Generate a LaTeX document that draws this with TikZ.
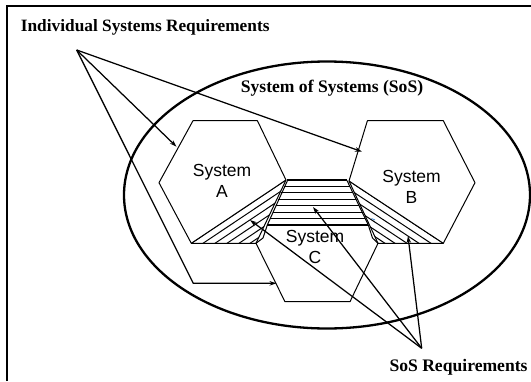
\documentclass[tikz,border=0pt]{standalone}
\usepackage{fontspec}
\setmainfont{Liberation Serif}
\newfontfamily\sansf{Liberation Sans}
\usetikzlibrary{arrows.meta}
\definecolor{tickblue}{RGB}{70,140,210}
\begin{document}
\begin{tikzpicture}[x=1pt,y=-1pt,
  hexline/.style={line width=1pt, line join=round},
  req/.style={line width=1.25pt, -{Stealth[length=7pt,width=4.5pt]}},
  hatch/.style={line width=1pt},
  serlabel/.style={font=\bfseries\fontsize{17.3}{20}\selectfont, inner sep=0pt},
  syslabel/.style={font=\sansf\fontsize{17.5}{21.7}\selectfont, align=center, inner sep=0pt},
]
\useasboundingbox (0,0) rectangle (531,381);
\fill[white] (0,0) rectangle (531,381);
% frame (top and left edges visible)
\draw[line width=2pt] (7.3,381) -- (7.3,6) -- (531,6);
% SoS ellipse
\draw[line width=2.3pt] (327,195) ellipse [x radius=203pt, y radius=133.5pt];
% hexagons
\draw[hexline] (193,120.7) -- (257.4,120.7) -- (286,180) -- (256,243.3) -- (191.3,243.3) -- (159,182.7) -- cycle;
\draw[hexline] (367.4,120.7) -- (443.3,120.7) -- (475,182.7) -- (443.3,243.3) -- (378,243.3) -- (349,181) -- cycle;
\draw[hexline] (256,243.3) -- (285,301.7) -- (350,301.7) -- (378,243.3);
% platform edges
\draw[hexline] (287.5,180.5) -- (267.3,225) -- (263,238) -- (256,243.3);
\draw[hexline] (347,180.5) -- (368.3,225) -- (372.5,238) -- (378,243.3);
% platform horizontal lines
\foreach \k in {0,...,7}{
  \pgfmathsetmacro{\yy}{180+\k*45/7}
  \pgfmathsetmacro{\xl}{286.7-(\yy-180)*19.4/45}
  \pgfmathsetmacro{\xr}{346.7+(\yy-180)*21.6/45}
  \draw[hatch, line width=1.15pt] (\xl,\yy) -- (\xr,\yy);
}
% left hatched band
\begin{scope}
  \clip (191.3,243.3) -- (286,180) -- (256,243.3) -- cycle;
  \foreach \x in {191.3,203,215,227,239,250}{
    \draw[hatch] (\x,243.3) -- ++(113.6,-76);
  }
\end{scope}
\draw[hatch] (191.3,243.3) -- (286,180);
% right hatched band
\begin{scope}
  \clip (443.3,243.3) -- (349,181) -- (378,243.3) -- cycle;
  \foreach \x in {443.3,431,419,407,395,385}{
    \draw[hatch] (\x,243.3) -- ++(-113.2,-74.8);
  }
\end{scope}
\draw[hatch] (443.3,243.3) -- (349,181);
\draw[tickblue, line width=0.8pt] (371.5,218.5) -- (375,220);
% labels
\node[serlabel, anchor=base west] (isr) at (20.7,31.5) {Individual Systems Requirements};
\node[serlabel, anchor=base west, font=\bfseries\fontsize{17.6}{20}\selectfont] (sosr) at (389.3,371.5) {SoS Requirements};
\node[serlabel, font=\bfseries\fontsize{17.6}{20}\selectfont] (sos) at (332,88.3) {System of Systems (SoS)};
\node[syslabel] (labA) at (222,181) {System\\A};
\node[syslabel] (labB) at (411.5,187) {System\\B};
\node[syslabel] (labC) at (315,247) {System\\C};
% arrow anchor points
\coordinate (O1) at (76.7,50);
\coordinate (tA) at (176.5,146.7);
\coordinate (tB) at (362,151.7);
\coordinate (kC) at (193.3,283.3);
\coordinate (tC) at (276.5,283.3);
\coordinate (O2) at (421.7,348.3);
\coordinate (sL) at (250,220);
\coordinate (sM) at (313,207);
\coordinate (sR) at (408,236);
% individual systems requirement arrows
\draw[req] (O1) -- (tA);
\draw[req] (O1) -- (tB);
\draw[req] (O1) -- (kC) -- (tC);
% SoS requirement arrows
\draw[req] (O2) -- (sL);
\draw[req] (O2) -- (sM);
\draw[req] (O2) -- (sR);
\end{tikzpicture}
\end{document}
